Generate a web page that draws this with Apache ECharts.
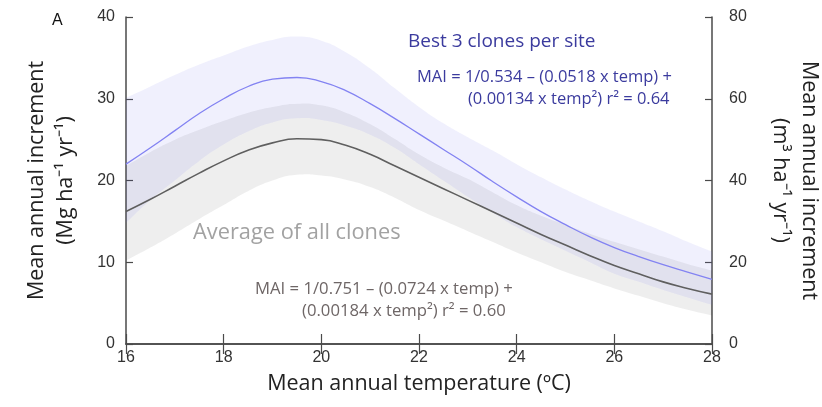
<!DOCTYPE html>
<html>
<head>
<meta charset="utf-8">
<script src="https://cdn.jsdelivr.net/npm/echarts@6/dist/echarts.min.js"></script>
<style>
html,body{margin:0;padding:0;background:#fff;}
#c{width:822px;height:407px;}
</style>
</head>
<body>
<div id="c"></div>
<script>
// ---- data ----
var temps     = [16, 16.5, 17, 17.5, 18, 18.5, 19, 19.5, 20, 20.5, 21, 21.5, 22, 22.5, 23, 23.5, 24, 24.5, 25, 25.5, 26, 26.5, 27, 27.5, 28];
var bestLine  = [22.0, 24.0, 26.1, 28.2, 30.0, 31.5, 32.4, 32.6, 32.1, 31.0, 29.4, 27.6, 25.7, 23.8, 21.9, 19.9, 18.0, 16.2, 14.6, 13.1, 11.8, 10.7, 9.7, 8.8, 7.9];
var bestUpper = [30.1, 31.5, 32.9, 34.2, 35.3, 36.4, 37.2, 37.6, 37.1, 35.7, 33.7, 31.3, 29.0, 27.0, 25.3, 23.7, 22.0, 20.4, 18.9, 17.5, 16.2, 15.0, 13.8, 12.5, 11.3];
var bestLower = [14.8, 17.6, 20.0, 22.4, 24.4, 26.0, 27.1, 27.6, 27.4, 26.7, 25.6, 24.0, 22.0, 20.0, 18.0, 16.1, 14.3, 12.8, 11.4, 10.0, 8.6, 7.6, 6.6, 5.7, 4.8];
var avgLine   = [16.2, 17.7, 19.3, 20.9, 22.4, 23.7, 24.6, 25.1, 25.0, 24.3, 23.2, 21.8, 20.4, 19.0, 17.6, 16.2, 14.8, 13.4, 12.1, 10.8, 9.6, 8.6, 7.6, 6.8, 6.1];
var avgUpper  = [21.8, 23.5, 25.0, 26.2, 27.3, 28.3, 29.0, 29.4, 29.2, 28.3, 26.9, 25.1, 23.2, 21.6, 20.2, 18.6, 17.0, 15.7, 14.6, 13.5, 12.5, 11.6, 10.7, 9.8, 9.0];
var avgLower  = [10.2, 11.8, 13.5, 15.3, 17.0, 18.7, 20.0, 20.7, 20.6, 20.1, 19.2, 17.9, 16.4, 15.1, 13.8, 12.5, 11.2, 10.0, 8.8, 7.8, 6.8, 5.9, 5.0, 4.2, 3.5];
var xTicks = {min: 16, max: 28, interval: 2};
var yLeftTicks = {min: 0, max: 40, interval: 10};
var yRightTicks = {min: 0, max: 80, interval: 20};

var SMOOTH = 0.5;
function pairs(xs, ys){ return xs.map(function(x,i){ return [x, ys[i]]; }); }
function bandRows(xs, lo, hi){ return xs.map(function(x,i){ return [x, lo[i], hi[i]]; }); }

// smooth path through pixel points (same idea as the line series smoothing)
function smoothSeg(pts, start){
  var d = (start ? 'M' : 'L') + pts[0][0] + ',' + pts[0][1];
  var n = pts.length;
  var cps = [];
  for (var i = 0; i < n; i++){
    var prev = pts[Math.max(0, i-1)], cur = pts[i], next = pts[Math.min(n-1, i+1)];
    var vx = (next[0]-prev[0]) * SMOOTH, vy = (next[1]-prev[1]) * SMOOTH;
    var d0 = Math.hypot(cur[0]-prev[0], cur[1]-prev[1]);
    var d1 = Math.hypot(next[0]-cur[0], next[1]-cur[1]);
    var s = d0 + d1; var r = s ? d0 / s : 0.5;
    cps.push([[cur[0]-vx*r, cur[1]-vy*r], [cur[0]+vx*(1-r), cur[1]+vy*(1-r)]]);
  }
  for (var k = 0; k < n-1; k++){
    var c1 = cps[k][1], c2 = cps[k+1][0], p = pts[k+1];
    d += 'C' + c1[0] + ',' + c1[1] + ' ' + c2[0] + ',' + c2[1] + ' ' + p[0] + ',' + p[1];
  }
  return d;
}

function makeBand(rows, fill){
  return function(params, api){
    if (params.dataIndex !== 0) return null;
    var top = [], bot = [];
    for (var i = 0; i < rows.length; i++) top.push(api.coord([rows[i][0], rows[i][2]]));
    for (var j = rows.length - 1; j >= 0; j--) bot.push(api.coord([rows[j][0], rows[j][1]]));
    var path = smoothSeg(top, true) + smoothSeg(bot, false) + 'Z';
    return {type: 'path', shape: {pathData: path}, style: {fill: fill}};
  };
}

var avgRows = bandRows(temps, avgLower, avgUpper);
var bestRows = bandRows(temps, bestLower, bestUpper);

var axisCol = '#4a4a4a';
var labelCol = '#333';
var titleFont = 'Open Sans';
var chart = echarts.init(document.getElementById('c'), null, {renderer: 'canvas'});
var opt = {
  animation: false,
  grid: {left: 126, right: 110, top: 17, bottom: 63, outerBoundsMode: 'none', containLabel: false},
  xAxis: [{
    type: 'value', position: 'bottom', min: xTicks.min, max: xTicks.max, interval: xTicks.interval,
    axisLine: {show: true, lineStyle: {color: axisCol, width: 1.5}},
    axisTick: {show: true, inside: true, length: 10, lineStyle: {color: axisCol, width: 1.2}},
    axisLabel: {color: labelCol, fontSize: 16, fontFamily: 'Liberation Sans', margin: 6},
    splitLine: {show: false},
    name: 'Mean annual temperature (\u00BAC)', nameLocation: 'middle', nameGap: 29, nameMoveOverlap: false,
    nameTextStyle: {fontSize: 21.5, fontFamily: titleFont, color: '#222'}
  }, {
    type: 'value', position: 'top', min: xTicks.min, max: xTicks.max, interval: xTicks.interval,
    axisLine: {show: true, lineStyle: {color: axisCol, width: 1.5}},
    axisTick: {show: true, inside: true, length: 10, lineStyle: {color: axisCol, width: 1.2}},
    axisLabel: {show: false}, splitLine: {show: false}
  }],
  yAxis: [{
    type: 'value', position: 'left', min: yLeftTicks.min, max: yLeftTicks.max, interval: yLeftTicks.interval,
    axisLine: {show: true, lineStyle: {color: axisCol, width: 1.5}},
    axisTick: {show: true, inside: true, length: 7, lineStyle: {color: axisCol, width: 1.2}},
    axisLabel: {color: labelCol, fontSize: 16, fontFamily: 'Liberation Sans', margin: 11},
    splitLine: {show: false},
    name: 'Mean annual increment\n(Mg ha\u207B\u00B9 yr\u207B\u00B9)', nameLocation: 'middle', nameRotate: 90, nameGap: 46, nameMoveOverlap: false,
    nameTextStyle: {fontSize: 21.5, fontFamily: titleFont, color: '#222', lineHeight: 29}
  }, {
    type: 'value', position: 'right', min: yRightTicks.min, max: yRightTicks.max, interval: yRightTicks.interval,
    axisLine: {show: true, lineStyle: {color: axisCol, width: 1.5}},
    axisTick: {show: true, inside: true, length: 7, lineStyle: {color: axisCol, width: 1.2}},
    axisLabel: {color: labelCol, fontSize: 16, fontFamily: 'Liberation Sans', margin: 17},
    splitLine: {show: false},
    name: 'Mean annual increment\n(m\u00B3 ha\u207B\u00B9 yr\u207B\u00B9)', nameLocation: 'middle', nameRotate: -90, nameGap: 54, nameMoveOverlap: false,
    nameTextStyle: {fontSize: 21.5, fontFamily: titleFont, color: '#222', lineHeight: 29}
  }],
  series: [{
    type: 'custom', name: 'avgBand', silent: true, z: 1, clip: true,
    data: avgRows, encode: {x: 0, y: [1, 2]},
    renderItem: makeBand(avgRows, 'rgba(0,0,0,0.065)')
  }, {
    type: 'custom', name: 'bestBand', silent: true, z: 2, clip: true,
    data: bestRows, encode: {x: 0, y: [1, 2]},
    renderItem: makeBand(bestRows, 'rgba(115,115,235,0.105)')
  }, {
    type: 'line', name: 'Average of all clones', data: pairs(temps, avgLine), smooth: SMOOTH,
    symbol: 'none', z: 3, lineStyle: {color: '#5f5f5f', width: 1.6}
  }, {
    type: 'line', name: 'Best 3 clones per site', data: pairs(temps, bestLine), smooth: SMOOTH,
    symbol: 'none', z: 4, lineStyle: {color: '#8383f2', width: 1.3}
  }],
  graphic: [
    {type: 'text', x: 52, y: 21, style: {text: 'A', fontSize: 16, fontFamily: 'Liberation Sans', fill: '#111', verticalAlign: 'middle'}},
    {type: 'text', x: 408, y: 42, style: {text: 'Best 3 clones per site', fontSize: 19, fontFamily: 'Open Sans', fill: '#3b3b9e', verticalAlign: 'middle'}},
    {type: 'text', x: 417, y: 77, style: {text: 'MAI = 1/0.534 \u2013 (0.0518 x temp) +', fontSize: 16.5, fontFamily: 'Open Sans', fill: '#3b3b9e', verticalAlign: 'middle'}},
    {type: 'text', x: 468, y: 99, style: {text: '(0.00134 x temp\u00B2) r\u00B2 = 0.64', fontSize: 16.5, fontFamily: 'Open Sans', fill: '#3b3b9e', verticalAlign: 'middle'}},
    {type: 'text', x: 193, y: 233, style: {text: 'Average of all clones', fontSize: 21.8, fontFamily: 'Open Sans', fill: '#a2a2a2', verticalAlign: 'middle'}},
    {type: 'text', x: 255, y: 289, style: {text: 'MAI = 1/0.751 \u2013 (0.0724 x temp) +', fontSize: 16.7, fontFamily: 'Open Sans', fill: '#6e6666', verticalAlign: 'middle'}},
    {type: 'text', x: 302, y: 311, style: {text: '(0.00184 x temp\u00B2) r\u00B2 = 0.60', fontSize: 16.7, fontFamily: 'Open Sans', fill: '#6e6666', verticalAlign: 'middle'}}
  ]
};
chart.setOption(opt);
</script>
</body>
</html>
